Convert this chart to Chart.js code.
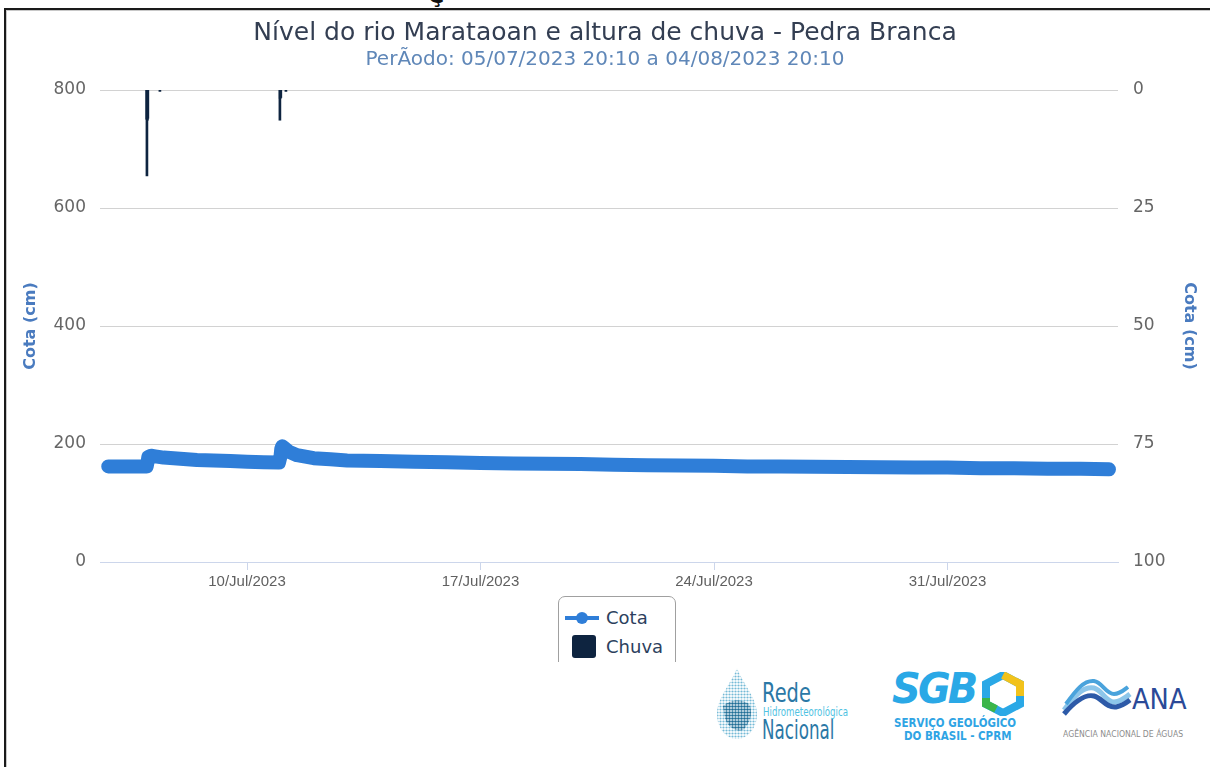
<!DOCTYPE html>
<html>
<head>
<meta charset="utf-8">
<script src="https://cdn.jsdelivr.net/npm/chart.js@4.4.0/dist/chart.umd.min.js"></script>
<style>
  html, body { margin: 0; padding: 0; background: #fff; width: 1210px; height: 767px; overflow: hidden; }
  #frame { position: absolute; left: 4px; top: 8px; width: 1240px; height: 800px;
           border-top: 2px solid #1a1a1a; border-left: 2px solid #1a1a1a; box-shadow: inset 1px 1px 0 #c8c8c8; }
  #cut { position: absolute; left: 428px; top: -17px; font: bold 22px 'DejaVu Sans'; color: #111; }
  #wrap { position: absolute; left: 0; top: 0; width: 1210px; height: 662px; overflow: hidden; }
  #legend { position: absolute; left: 558px; top: 596px; width: 116px; height: 100px;
            border: 1px solid #a0a0a0; border-radius: 7px; background: #fff; }
  .item { position: absolute; left: 0; height: 24px; font: 18px 'DejaVu Sans'; color: #2d3f5e; }
  .item span { position: absolute; left: 47px; top: 0; line-height: 24px; white-space: nowrap; }
  .logo { position: absolute; white-space: nowrap; }
</style>
</head>
<body>
<div id="frame"></div>
<div id="cut">Ç</div>
<div id="wrap">
  <canvas id="chart" width="1210" height="662"></canvas>
  <div id="legend"></div>
</div>

<!-- logos -->
<svg class="logo" style="left:713px;top:666px" width="48" height="76" viewBox="0 0 48 76">
  <defs>
    <pattern id="dots" width="3" height="3" patternUnits="userSpaceOnUse">
      <circle cx="1.5" cy="1.5" r="1.1" fill="#3a9cc4"/>
    </pattern>
    <pattern id="dots2" width="3" height="3" patternUnits="userSpaceOnUse">
      <circle cx="1.5" cy="1.5" r="1.3" fill="#1f6c94"/>
    </pattern>
  </defs>
  <path d="M24 2 C30 18 44 32 44 48 C44 62 35 73 24 73 C13 73 4 62 4 48 C4 32 18 18 24 2 Z" fill="url(#dots)" opacity="0.7"/>
  <path d="M10 40 C16 34 28 32 36 38 C40 46 38 56 30 64 C22 66 14 60 12 52 Z" fill="url(#dots2)"/>
</svg>
<div class="logo" style="left:762px;top:677px;font:27px 'DejaVu Sans';color:#2b78a6;transform:scaleX(0.72);transform-origin:left top">Rede</div>
<div class="logo" style="left:763px;top:705px;font:12px 'DejaVu Sans';color:#4fc2e2;transform:scaleX(0.72);transform-origin:left top">Hidrometeorológica</div>
<div class="logo" style="left:762px;top:714px;font:27px 'DejaVu Sans';color:#2b78a6;transform:scaleX(0.62);transform-origin:left top">Nacional</div>

<div class="logo" style="left:892px;top:664px;font:italic bold 42px 'DejaVu Sans';letter-spacing:-3px;color:#2aa8e6;transform:scaleX(0.95);transform-origin:left top">SGB</div>
<svg class="logo" style="left:982px;top:672px" width="42" height="44" viewBox="0 0 42 44">
  <polygon points="21,3 38,12 38,32 21,41 4,32 4,12" fill="none" stroke="#2aa8e6" stroke-width="8"/>
  <polyline points="21,3 38,12 38,24" fill="none" stroke="#f2c21b" stroke-width="8"/>
  <polyline points="4,26 4,32 14,37" fill="none" stroke="#3cb54a" stroke-width="8"/>
</svg>
<div class="logo" style="left:894px;top:716px;font:bold 12px 'DejaVu Sans';color:#2fa4e4;transform:scaleX(0.86);transform-origin:left top">SERVIÇO GEOLÓGICO</div>
<div class="logo" style="left:904px;top:729px;font:bold 12px 'DejaVu Sans';color:#2fa4e4;transform:scaleX(0.86);transform-origin:left top">DO BRASIL - CPRM</div>

<svg class="logo" style="left:1062px;top:676px" width="70" height="40" viewBox="0 0 70 40">
  <path d="M2 34 C14 18 22 10 32 12 C40 14 44 26 52 26 C58 26 63 22 68 18" fill="none" stroke="#8dc6ea" stroke-width="5"/>
  <path d="M2 38 C14 24 24 18 32 20 C40 22 44 32 54 31 C60 30 64 27 68 24" fill="none" stroke="#2d5aa8" stroke-width="5"/>
  <path d="M4 28 C14 14 22 4 32 5 C40 6 44 18 52 18 C58 18 62 14 66 11" fill="none" stroke="#4aa3dc" stroke-width="4"/>
</svg>
<div class="logo" style="left:1132px;top:683px;font:28px 'DejaVu Sans';color:#2b4a98;transform:scaleX(0.92);transform-origin:left top">ANA</div>
<div class="logo" style="left:1063px;top:729px;font:9px 'DejaVu Sans';color:#8c8c8c;transform:scaleX(0.86);transform-origin:left top">AGÊNCIA NACIONAL DE ÁGUAS</div>

<script>
'use strict';

// Cota (cm), leitura do gráfico
var cotaTimes = [
   '2023-07-05 20:10', '2023-07-06 06:00', '2023-07-06 18:00', '2023-07-06 23:50',
   '2023-07-07 00:30', '2023-07-07 01:00', '2023-07-07 03:00', '2023-07-07 06:00',
   '2023-07-07 12:00', '2023-07-08 00:00', '2023-07-08 12:00', '2023-07-09 00:00',
   '2023-07-09 12:00', '2023-07-10 00:00', '2023-07-10 12:00', '2023-07-10 23:00',
   '2023-07-11 00:10', '2023-07-11 00:40', '2023-07-11 01:20', '2023-07-11 03:00',
   '2023-07-11 06:00', '2023-07-11 12:00', '2023-07-12 00:00', '2023-07-12 12:00',
   '2023-07-13 00:00', '2023-07-14 00:00', '2023-07-15 00:00', '2023-07-16 00:00',
   '2023-07-17 00:00', '2023-07-18 00:00', '2023-07-19 00:00', '2023-07-20 00:00',
   '2023-07-21 00:00', '2023-07-22 00:00', '2023-07-23 00:00', '2023-07-24 00:00',
   '2023-07-25 00:00', '2023-07-26 00:00', '2023-07-27 00:00', '2023-07-28 00:00',
   '2023-07-29 00:00', '2023-07-30 00:00', '2023-07-31 00:00', '2023-08-01 00:00',
   '2023-08-02 00:00', '2023-08-03 00:00', '2023-08-04 00:00', '2023-08-04 20:10'
];
var cotaValues = [
   162, 162, 162, 162,
   170, 178, 180, 179,
   177, 175, 173, 172,
   171, 170, 169, 168.5,
   180, 192, 196, 193,
   187, 181, 176, 174,
   172, 171, 170, 169,
   168, 167, 166.5, 166,
   165, 164, 163.5, 163,
   162, 162, 161.5, 161,
   160.5, 160, 160, 159,
   159, 158, 158, 157
];

// Chuva (mm)
var chuvaTimes = [
   '2023-07-06 23:50', '2023-07-07 00:00', '2023-07-07 00:20', '2023-07-07 00:40',
   '2023-07-07 09:20', '2023-07-10 23:40', '2023-07-10 23:50', '2023-07-11 00:20',
   '2023-07-11 04:00'
];
var chuvaValues = [6.2, 18.2, 6.4, 6.0, 0.3, 6.4, 1.8, 1.6, 0.3];

var xTickDates = ['2023-07-10 00:00', '2023-07-17 00:00', '2023-07-24 00:00', '2023-07-31 00:00'];
var leftTicks = [0, 200, 400, 600, 800];
var rightTicks = [0, 25, 50, 75, 100];
var xRange = ['2023-07-05 14:14', '2023-08-05 02:40'];
var months = ['Jan', 'Fev', 'Mar', 'Abr', 'Mai', 'Jun', 'Jul', 'Ago', 'Set', 'Out', 'Nov', 'Dez'];

function toMs(s) {
   var p = s.split(/[- :]/).map(Number);
   return Date.UTC(p[0], p[1] - 1, p[2], p[3] || 0, p[4] || 0);
}
function fmtDate(v) {
   var d = new Date(v);
   var dd = ('0' + d.getUTCDate()).slice(-2);
   return dd + '/' + months[d.getUTCMonth()] + '/' + d.getUTCFullYear();
}
function fixTicks(list) {
   return function (scale) {
      scale.ticks = list.map(function (v) { return { value: v }; });
   };
}

var tickFont = { family: "'DejaVu Sans'", size: 17 };
var axisTitleFont = { family: "'DejaVu Sans'", size: 16, weight: 'bold' };

var chart = new Chart(document.getElementById('chart'), {
   type: 'line',
   data: {
      datasets: [{
         label: 'Cota',
         type: 'line',
         yAxisID: 'y',
         data: cotaTimes.map(function (t, i) { return { x: toMs(t), y: cotaValues[i] }; }),
         borderColor: '#2f7ed8',
         backgroundColor: '#2f7ed8',
         borderWidth: 14,
         borderCapStyle: 'round',
         borderJoinStyle: 'round',
         pointRadius: 0,
         tension: 0,
         order: 1
      }, {
         label: 'Chuva',
         type: 'bar',
         yAxisID: 'y1',
         data: chuvaTimes.map(function (t, i) { return { x: toMs(t), y: chuvaValues[i] }; }),
         backgroundColor: '#0e2440',
         barThickness: 2,
         order: 2
      }]
   },
   options: {
      responsive: false,
      animation: false,
      devicePixelRatio: 1,
      layout: { padding: { left: 0, right: 0, top: 0, bottom: 70 } },
      plugins: {
         legend: { display: false },
         tooltip: { enabled: false },
         title: {
            display: true,
            text: 'Nível do rio Marataoan e altura de chuva - Pedra Branca',
            color: '#333e52',
            font: { family: "'DejaVu Sans'", size: 25, weight: 'normal' },
            padding: { top: 18, bottom: 0 }
         },
         subtitle: {
            display: true,
            text: 'PerÃodo: 05/07/2023 20:10 a 04/08/2023 20:10',
            color: '#5f87b8',
            font: { family: "'DejaVu Sans'", size: 20 },
            padding: { top: 0, bottom: 18 }
         }
      },
      scales: {
         x: {
            type: 'linear',
            offset: false,
            min: toMs(xRange[0]),
            max: toMs(xRange[1]),
            afterBuildTicks: fixTicks(xTickDates.map(toMs)),
            afterFit: function (s) { s.height = 30; },
            grid: { offset: false, drawOnChartArea: false, drawTicks: true, tickLength: 8, color: '#ccd6eb' },
            border: { color: '#ccd6eb' },
            ticks: {
               padding: 3, maxRotation: 0, autoSkip: false, color: '#606060',
               font: { family: "'Liberation Sans'", size: 15 },
               callback: function (v) { return fmtDate(v); }
            }
         },
         y: {
            position: 'left',
            min: 0, max: 800,
            afterBuildTicks: fixTicks(leftTicks),
            afterFit: function (s) { s.width = 100; },
            grid: { color: '#d2d2d2', drawTicks: false },
            border: { display: false },
            ticks: { padding: 14, color: '#666666', font: tickFont },
            title: { display: true, text: 'Cota (cm)', color: '#4a7bbf', font: axisTitleFont, padding: { top: 21, bottom: 0 } }
         },
         y1: {
            position: 'right',
            min: 0, max: 100,
            reverse: true,
            afterBuildTicks: fixTicks(rightTicks),
            afterFit: function (s) { s.width = 92; },
            grid: { display: false, drawTicks: false },
            border: { display: false },
            ticks: { padding: 15, color: '#666666', font: tickFont },
            title: { display: true, text: 'Cota (cm)', color: '#4a7bbf', font: axisTitleFont, padding: { top: 11, bottom: 0 } }
         }
      }
   }
});

// legenda em HTML, a partir dos datasets
var legend = document.getElementById('legend');
chart.data.datasets.forEach(function (ds, i) {
   var item = document.createElement('div');
   item.className = 'item';
   item.style.top = (i === 0 ? 9 : 38) + 'px';
   item.style.width = '115px';
   var icon;
   if (ds.type === 'line') {
      icon = '<div style="position:absolute;left:6px;top:10px;width:34px;height:4px;background:' + ds.borderColor + '"></div>' +
             '<div style="position:absolute;left:17px;top:6px;width:12px;height:12px;border-radius:50%;background:' + ds.borderColor + '"></div>';
   } else {
      icon = '<div style="position:absolute;left:13px;top:0px;width:24px;height:23px;border-radius:3px;background:' + ds.backgroundColor + '"></div>';
   }
   item.innerHTML = icon + '<span>' + ds.label + '</span>';
   legend.appendChild(item);
});
</script>
</body>
</html>
